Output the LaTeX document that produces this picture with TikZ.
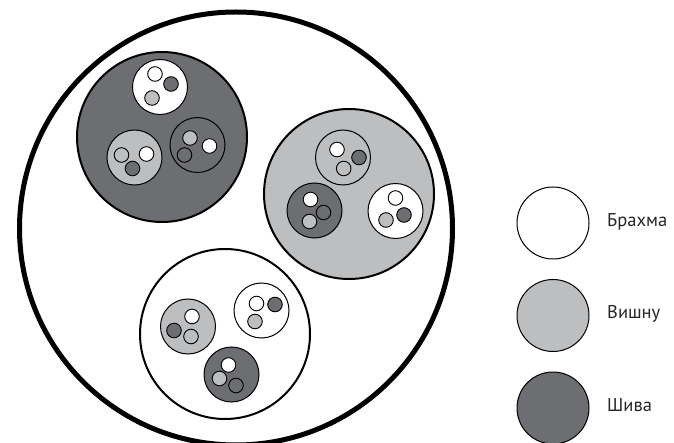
\documentclass[tikz,border=0pt]{standalone}
\usepackage{fontspec}
\setmainfont{PT Sans}
\definecolor{shiva}{HTML}{6D6E71}
\definecolor{vishnu}{HTML}{BCBEC0}
\definecolor{brahma}{HTML}{FFFFFF}
\tikzset{
  outer/.style={draw=black,line width=5pt,fill=white},
  group/.style={draw=black,line width=2pt},
  mid/.style={draw=black,line width=1pt},
  small/.style={draw=black,line width=0.9pt},
  legend/.style={draw=black,line width=1pt,circle,minimum size=72pt,inner sep=0pt},
  lbl/.style={anchor=base west,font=\fontsize{18.5}{20}\selectfont,text=black!85,inner sep=0pt}
}
\begin{document}
\begin{tikzpicture}[x=1pt,y=-1pt]
\useasboundingbox (0,0) rectangle (674,443);
% outer circle
\draw[outer] (236,228.5) circle (216.5);
% groups
\draw[group,fill=shiva] (162,137) circle (85);
\draw[group,fill=vishnu] (349,194) circle (85);
\draw[group,fill=brahma] (225,334) circle (85);
% mid circles with their three small circles
\foreach \cx/\cy/\cf/\ax/\ay/\af/\bx/\by/\bf/\gx/\gy/\gf in {
  160/87/brahma/-5/-13/brahma/11/-3/shiva/-8/11/vishnu,
  134.5/157.5/vishnu/-13/-2.5/vishnu/12/-3.5/brahma/-2/11/shiva,
  197.5/145/shiva/-7.5/-7/vishnu/12/1/brahma/-13/10/shiva,
  343/157.5/vishnu/-6/-8/brahma/16/0/shiva/0.7/11/vishnu,
  314.5/210.5/shiva/-4/-11/brahma/9/2/shiva/-5/11/vishnu,
  395.5/211/brahma/0/-13/brahma/8.5/4/shiva/-9.5/9/vishnu,
  261.5/310.5/brahma/-5/-7/brahma/13.5/-6/shiva/-6.5/11/vishnu,
  188/326.5/vishnu/4/-10/brahma/-14/4/shiva/3/10/vishnu,
  231.5/374.5/shiva/-3/-9.5/brahma/-12/4/vishnu/4.5/11/shiva}
{
  \draw[mid,fill=\cf] (\cx,\cy) circle (27.5);
  \draw[small,fill=\af] (\cx+\ax,\cy+\ay) circle (7.3);
  \draw[small,fill=\bf] (\cx+\bx,\cy+\by) circle (7.3);
  \draw[small,fill=\gf] (\cx+\gx,\cy+\gy) circle (7.3);
}
% legend
\node[legend,fill=brahma] (lb) at (553,223) {};
\node[legend,fill=vishnu] (lv) at (553,315.5) {};
\node[legend,fill=shiva] (ls) at (553,408) {};
\node[lbl] (tb) at (607,227) {Брахма};
\node[lbl] (tv) at (607,319) {Вишну};
\node[lbl] (ts) at (607,411) {Шива};
\end{tikzpicture}
\end{document}
